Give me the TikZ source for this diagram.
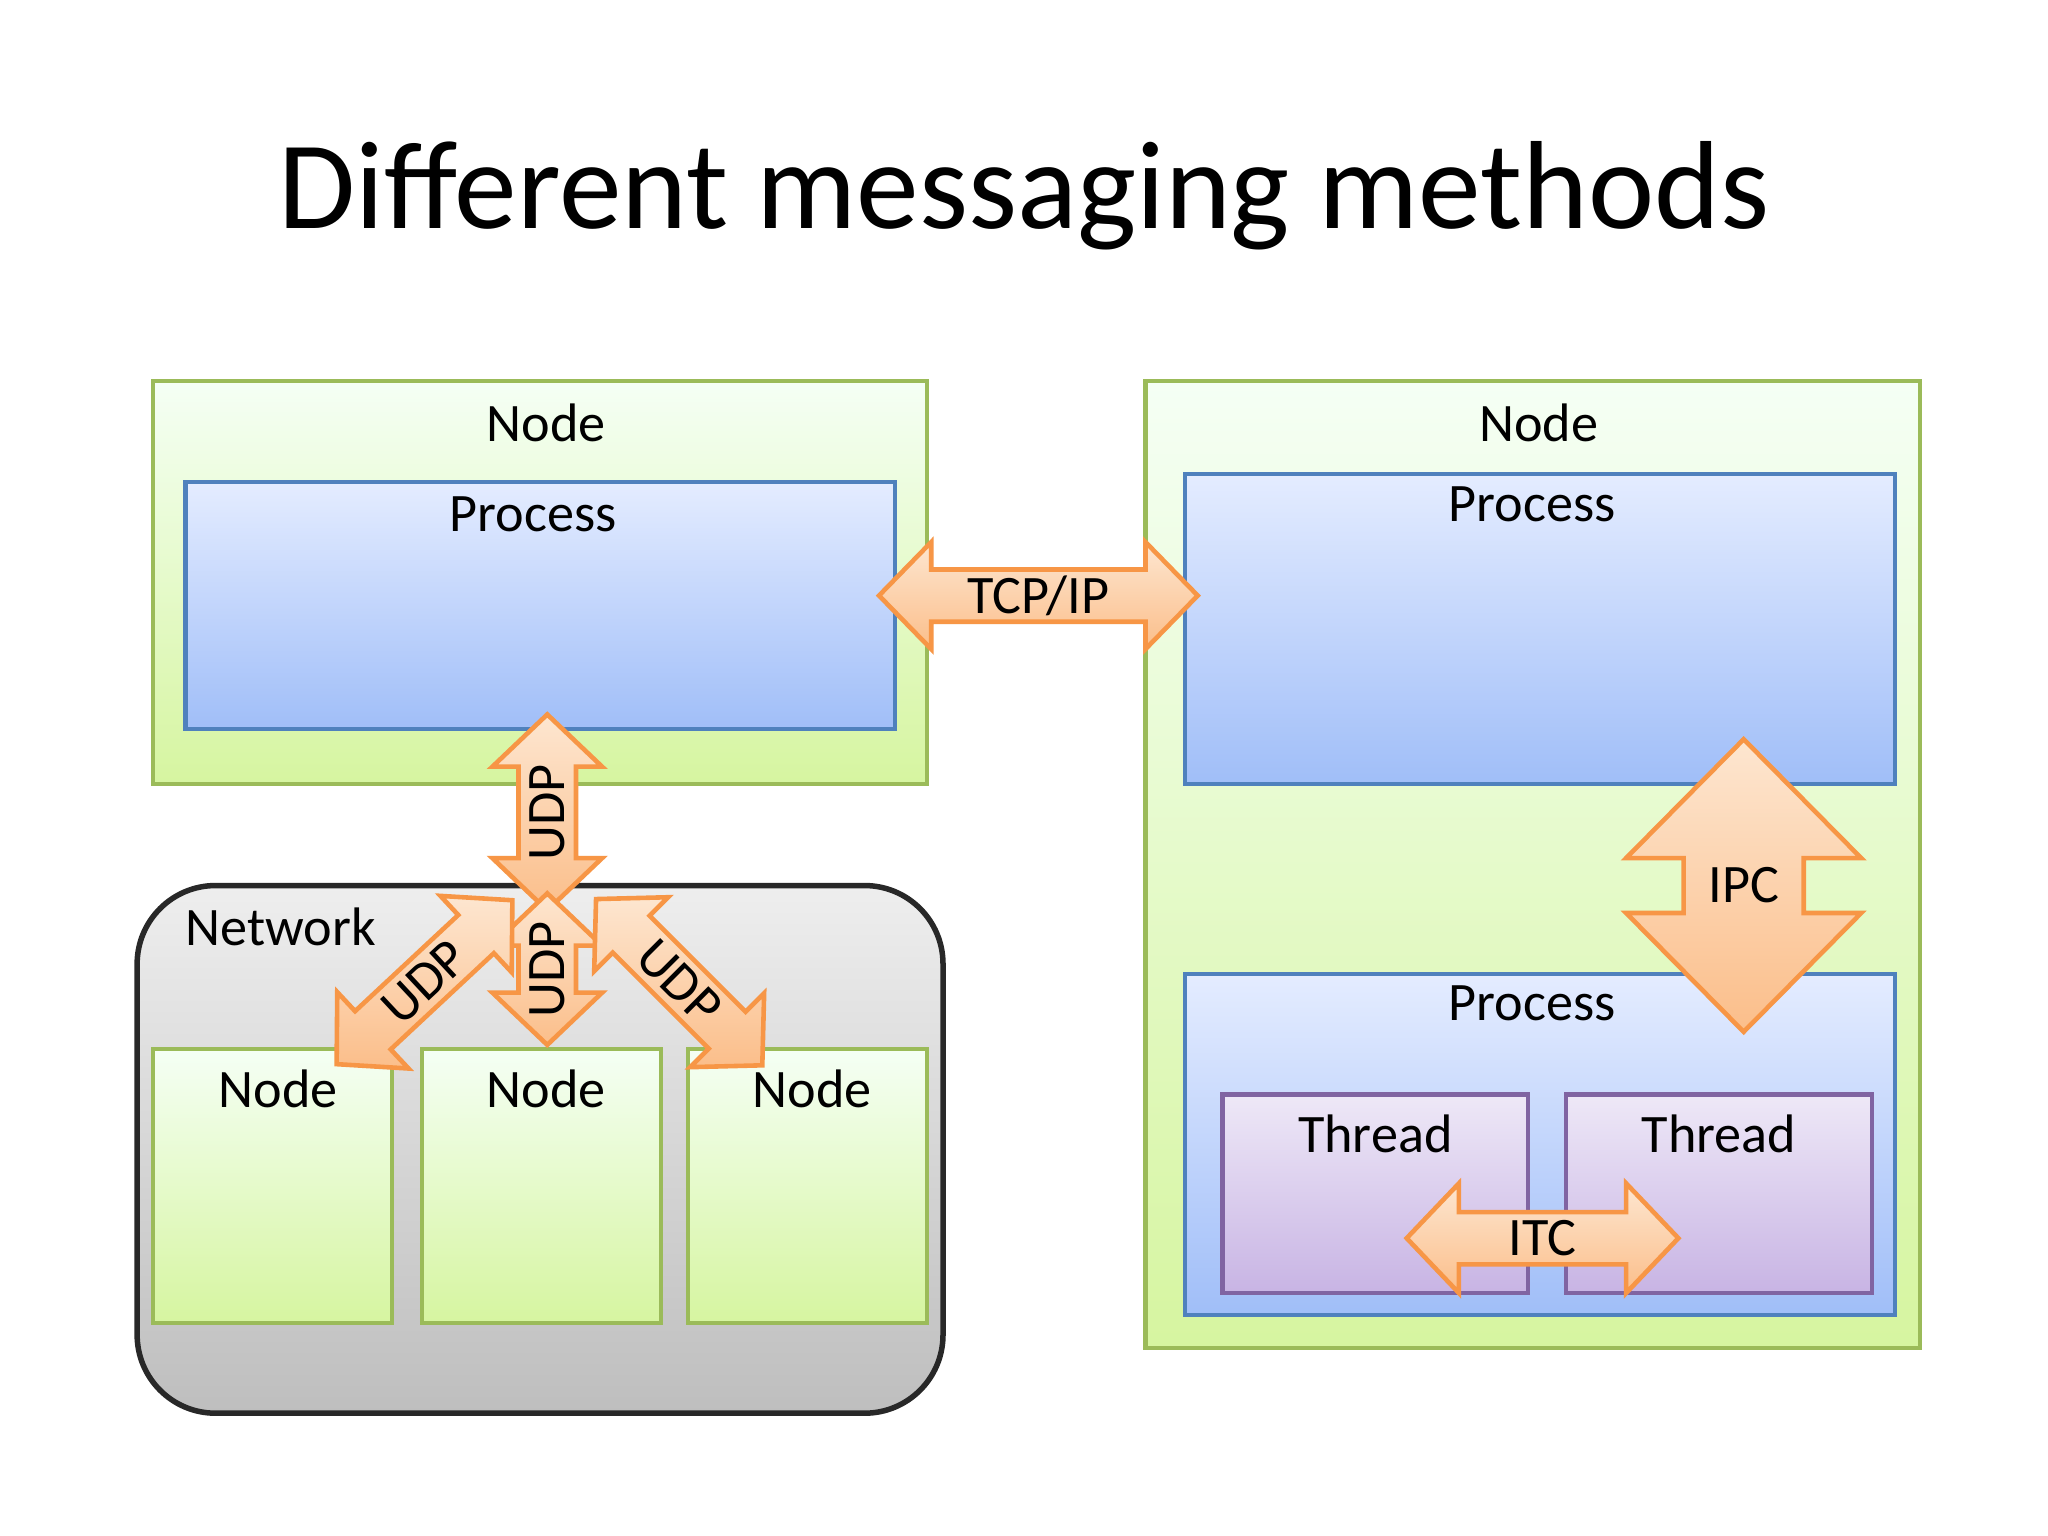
\documentclass[tikz,border=0pt]{standalone}
\usepackage{fontspec}
\setmainfont{Carlito}
\begin{document}
\begin{tikzpicture}[x=0.01cm,y=-0.01cm,
  greenbox/.style={top color=green!4!white, bottom color={rgb,255:red,214;green,245;blue,160}, draw={rgb,255:red,155;green,187;blue,89}, line width=0.9pt},
  bluebox/.style={top color={rgb,255:red,228;green,236;blue,255}, bottom color={rgb,255:red,160;green,190;blue,248}, draw={rgb,255:red,79;green,129;blue,189}, line width=0.9pt},
  purplebox/.style={top color={rgb,255:red,238;green,232;blue,247}, bottom color={rgb,255:red,200;green,180;blue,228}, draw={rgb,255:red,128;green,100;blue,162}, line width=0.9pt},
  netbox/.style={top color={rgb,255:red,238;green,238;blue,238}, bottom color={rgb,255:red,190;green,190;blue,190}, draw={rgb,255:red,40;green,40;blue,40}, line width=1.2pt, rounded corners=0.6cm},
  arrowstyle/.style={top color={rgb,255:red,253;green,230;blue,208}, bottom color={rgb,255:red,251;green,190;blue,138}, draw={rgb,255:red,247;green,150;blue,70}, line width=1pt, line join=miter},
  lbl/.style={font=\fontsize{11.8}{14}\selectfont, inner sep=0pt},
  title/.style={font=\fontsize{27.3}{32}\selectfont, inner sep=0pt}]
\newcommand\darrow[9]{%
\begin{scope}[shift={#2},rotate=#3]
\shade[arrowstyle] ({-#4},0) -- ({-#4+#7},{#6}) -- ({-#4+#7},{#5}) -- ({#4-#7},{#5}) -- ({#4-#7},{#6}) -- ({#4},0) -- ({#4-#7},{-#6}) -- ({#4-#7},{-#5}) -- ({-#4+#7},{-#5}) -- ({-#4+#7},{-#6}) -- cycle;
\node[lbl,rotate=#9] (#1) at (0,0) {#8};
\end{scope}}
\useasboundingbox[fill=white] (0,0) rectangle (1568,1176);
\node[title] (t) at (784,150) {Different messaging methods};
% left top node
\shade[greenbox] (117,292) rectangle (710,600);
\node[lbl] (n1) at (418,324) {Node};
\shade[bluebox] (142,369) rectangle (685,558);
\node[lbl] (p1) at (408,394) {Process};
% right node
\shade[greenbox] (877,292) rectangle (1470,1032);
\node[lbl] (n2) at (1178,324) {Node};
\shade[bluebox] (907,363) rectangle (1451,600);
\node[lbl] (p2) at (1173,386) {Process};
\shade[bluebox] (907,746) rectangle (1451,1007);
\node[lbl] (p3) at (1173,768) {Process};
\shade[purplebox] (936,838) rectangle (1170,990);
\shade[purplebox] (1199,838) rectangle (1433,990);
\node[lbl] (th1) at (1053,868) {Thread};
\node[lbl] (th2) at (1316,868) {Thread};
% network
\shade[netbox] (105,678) rectangle (722,1082);
\node[lbl] (net) at (215,710) {Network};
\shade[greenbox] (117,803) rectangle (300,1013);
\shade[greenbox] (323,803) rectangle (506,1013);
\shade[greenbox] (527,803) rectangle (710,1013);
% arrows
\darrow{tcp}{(795,456)}{0}{122}{20}{41}{40}{TCP/IP}{0}
\darrow{udp1}{(419,622)}{90}{75}{22}{42}{40}{UDP}{90}
\darrow{udp2}{(419,742)}{90}{58}{22}{42}{40}{UDP}{90}
\darrow{udp3}{(325,752)}{43}{92}{20}{40}{38}{UDP}{43}
\darrow{udp4}{(520,752)}{-45}{90}{20}{40}{38}{UDP}{-45}
\darrow{ipc}{(1335,678)}{90}{112}{46}{90}{91}{IPC}{0}
\darrow{itc}{(1181,948)}{0}{104}{20}{42}{40}{ITC}{0}
\node[lbl] (s1) at (213,834) {Node};
\node[lbl] (s2) at (418,834) {Node};
\node[lbl] (s3) at (622,834) {Node};
\end{tikzpicture}
\end{document}
